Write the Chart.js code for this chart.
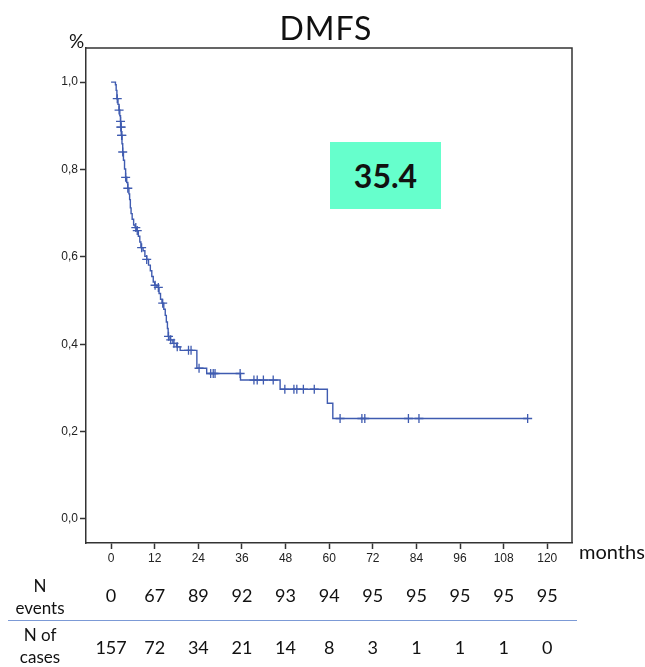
<!DOCTYPE html>
<html>
<head>
<meta charset="utf-8">
<title>DMFS</title>
<script src="https://cdn.jsdelivr.net/npm/chart.js@4.4.1/dist/chart.umd.min.js"></script>
<style>
  body { margin: 0; background: #fff; }
  #wrap { position: relative; width: 645px; height: 667px; overflow: hidden; font-family: Lato, 'Noto Sans', sans-serif; color: #111; }
  #chart { position: absolute; left: 0; top: 0; }
  .lbl { position: absolute; white-space: nowrap; }
  #title { left: 0; width: 652px; top: 8px; text-align: center; font-size: 32px; letter-spacing: 1px; }
  #pct { left: 69px; top: 29px; font-size: 19px; }
  #box { position: absolute; left: 330px; top: 142px; width: 111px; height: 67px; background: #66ffcc;
         display: flex; align-items: center; justify-content: center; font-size: 32px; font-weight: bold; }
  #months { left: 579px; top: 539px; font-size: 20px; }
  .rowlab { position: absolute; left: 5px; width: 70px; text-align: center; font-size: 17px; line-height: 22px; }
  #sep { position: absolute; left: 8px; top: 620px; width: 569px; height: 0; border-top: 1.5px solid #7c9ad6; }
</style>
</head>
<body>
<div id="wrap">
  <canvas id="chart" width="645" height="667"></canvas>
  <div class="lbl" id="title">DMFS</div>
  <div class="lbl" id="pct">%</div>
  <div id="box">35.4</div>
  <div class="lbl" id="months">months</div>
  <div class="rowlab" style="top:575px">N<br>events</div>
  <div id="sep"></div>
  <div class="rowlab" style="top:624px">N of<br>cases</div>
</div>
<script>
// Kaplan-Meier steps: time (months) where survival drops, and new survival
const stepTimes = [0, 1.2, 1.4, 1.6, 1.9, 2.2, 2.4, 2.6, 2.7, 2.8, 3.0, 3.2, 3.4, 3.7, 4.0, 4.3, 4.6, 4.9,
  5.1, 5.3, 5.5, 5.8, 6.2, 6.6, 7.0, 7.5, 7.9, 8.2, 8.8, 9.3, 9.8, 10.3, 10.8, 11.2, 11.6, 12.0, 12.6,
  13.2, 13.6, 14.0, 14.5, 14.9, 15.2, 15.5, 15.7, 16.2, 17.0, 18.0, 19.0, 23.6, 26.3, 35.6, 46.5,
  59.5, 61.0, 114.6];
const stepSurv = [1.0, 0.994, 0.981, 0.962, 0.949, 0.936, 0.923, 0.910, 0.897, 0.878, 0.859, 0.840, 0.821,
  0.801, 0.782, 0.770, 0.757, 0.744, 0.731, 0.712, 0.699, 0.686, 0.673, 0.667, 0.660, 0.647, 0.634,
  0.621, 0.614, 0.601, 0.594, 0.581, 0.568, 0.555, 0.542, 0.535, 0.530, 0.516, 0.503, 0.494, 0.480,
  0.466, 0.451, 0.436, 0.418, 0.410, 0.402, 0.394, 0.386, 0.345, 0.333, 0.318, 0.297, 0.265, 0.230,
  0.230];

// censored observations (months)
const censorTimes = [1.7, 2.2, 2.6, 2.7, 2.75, 2.9, 2.95, 3.2, 4.0, 4.6, 6.8, 7.2, 8.4, 9.8, 12.1, 13.0,
  14.2, 15.8, 16.4, 17.3, 18.2, 21.3, 22.0, 24.2, 27.4, 28.1, 28.6, 35.5, 39.3, 40.2, 41.9, 44.6,
  47.8, 50.3, 51.1, 52.9, 55.9, 63.0, 69.0, 69.8, 81.8, 84.7, 114.6];

const xTicks = [0, 12, 24, 36, 48, 60, 72, 84, 96, 108, 120];
const yTicks = [0, 0.2, 0.4, 0.6, 0.8, 1.0];

// risk table under the axis
const tableTimes = [0, 12, 24, 36, 48, 60, 72, 84, 96, 108, 120];
const nEvents = [0, 67, 89, 92, 93, 94, 95, 95, 95, 95, 95];
const nCases = [157, 72, 34, 21, 14, 8, 3, 1, 1, 1, 0];

const lineColor = '#3f5bb0';

function survAt(t) {
  let s = stepSurv[0];
  for (let i = 0; i < stepTimes.length; i++) {
    if (stepTimes[i] <= t) s = stepSurv[i];
  }
  return s;
}

const kmData = stepTimes.map((t, i) => ({ x: t, y: stepSurv[i] }));
const censorData = censorTimes.map(t => ({ x: t, y: survAt(t) }));

// frame on top/right + risk table numbers
const framePlugin = {
  id: 'frame',
  afterDraw(chart) {
    const { ctx, chartArea: a } = chart;
    ctx.save();
    ctx.strokeStyle = '#333';
    ctx.lineWidth = 1.5;
    ctx.beginPath();
    ctx.moveTo(a.left, a.top);
    ctx.lineTo(a.right, a.top);
    ctx.lineTo(a.right, a.bottom);
    ctx.stroke();

    const xs = chart.scales.x;
    ctx.fillStyle = '#111';
    ctx.font = '18px Lato, sans-serif';
    ctx.textAlign = 'center';
    ctx.textBaseline = 'middle';
    tableTimes.forEach((t, i) => {
      const px = xs.getPixelForValue(t);
      ctx.fillText(String(nEvents[i]), px, 596);
      ctx.fillText(String(nCases[i]), px, 648);
    });
    ctx.restore();
  }
};

new Chart(document.getElementById('chart').getContext('2d'), {
  type: 'scatter',
  data: {
    datasets: [{
      label: 'KM',
      data: kmData,
      showLine: true,
      stepped: true,
      borderColor: lineColor,
      borderWidth: 1.4,
      pointRadius: 0,
      fill: false
    }, {
      label: 'Censored',
      data: censorData,
      showLine: false,
      pointStyle: 'cross',
      pointRadius: 4.5,
      borderColor: lineColor,
      backgroundColor: lineColor,
      pointBorderWidth: 1.3
    }]
  },
  options: {
    responsive: false,
    animation: false,
    devicePixelRatio: 1,
    layout: { padding: { top: 48, right: 73, left: 0, bottom: 0 } },
    plugins: {
      legend: { display: false },
      tooltip: { enabled: false }
    },
    scales: {
      x: {
        type: 'linear',
        min: -6.9,
        max: 126.8,
        afterBuildTicks: scale => { scale.ticks = xTicks.map(v => ({ value: v })); },
        afterFit: scale => { scale.height = 124; },
        ticks: {
          color: '#222',
          padding: 2,
          maxRotation: 0,
          font: { family: "'Liberation Sans', Arial, sans-serif", size: 12 }
        },
        grid: { drawOnChartArea: false, tickLength: 6, color: '#333', tickWidth: 1.5 },
        border: { display: true, color: '#333', width: 1.5 }
      },
      y: {
        type: 'linear',
        min: -0.055,
        max: 1.078,
        afterBuildTicks: scale => { scale.ticks = yTicks.map(v => ({ value: v })); },
        afterFit: scale => { scale.width = 86; },
        ticks: {
          color: '#222',
          padding: 2,
          font: { family: "'Liberation Sans', Arial, sans-serif", size: 12 },
          callback: v => v.toFixed(1).replace('.', ',')
        },
        grid: { drawOnChartArea: false, tickLength: 6, color: '#333', tickWidth: 1.5 },
        border: { display: true, color: '#333', width: 1.5 }
      }
    }
  },
  plugins: [framePlugin]
});
</script>
</body>
</html>
